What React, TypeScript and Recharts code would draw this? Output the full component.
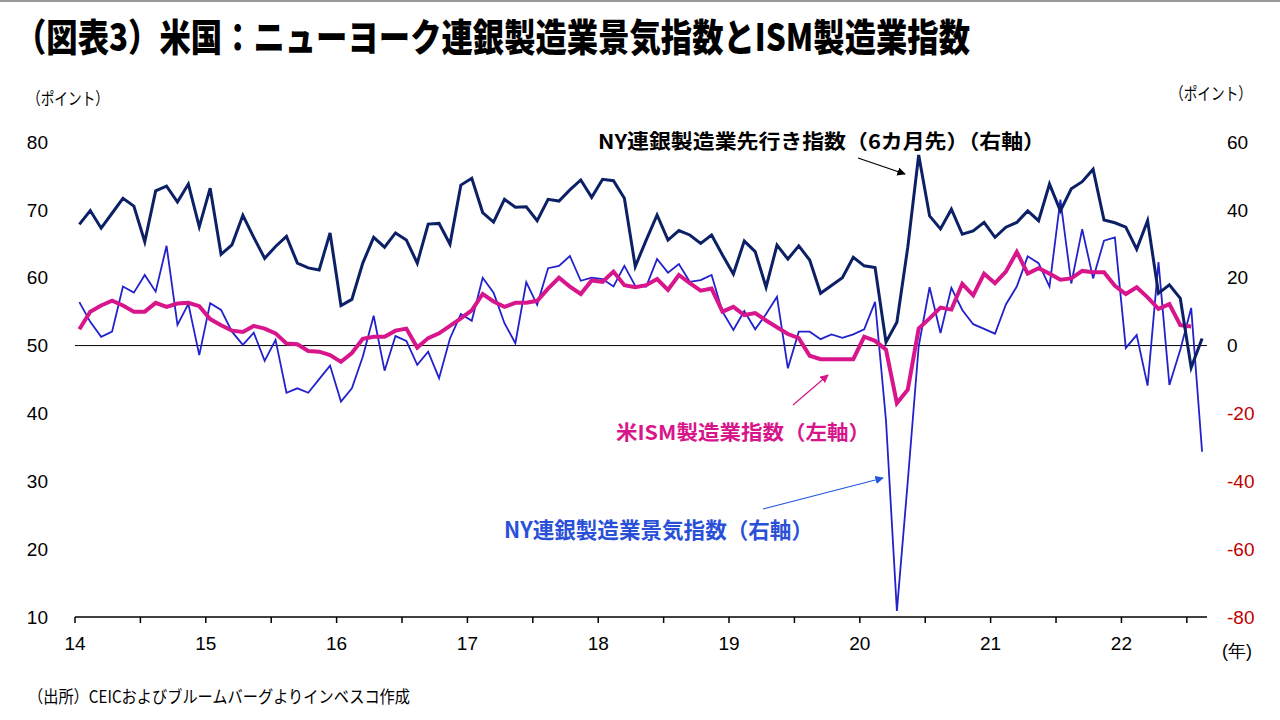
import { LineChart, Line, XAxis, YAxis, ReferenceLine } from "recharts";

// monthly, Jan 2014 .. Aug 2022
const nyFuture = [
  35.7, 39.8, 34.6, 39.0, 43.4, 41.1, 30.6, 45.6, 47.0, 42.3, 47.6, 35.0,
  46.4, 26.9, 29.7, 38.4, 31.9, 25.7, 29.2, 32.2, 24.3, 22.9, 22.3, 33.2,
  11.8, 13.6, 24.3, 31.9, 29.0, 33.2, 31.1, 24.3, 35.8, 36.0, 29.9, 47.3,
  49.3, 39.2, 36.4, 43.1, 40.8, 40.9, 36.8, 43.1, 42.6, 45.9, 48.8, 43.7,
  49.0, 48.6, 43.4, 23.3, 31.1, 38.5, 31.1, 33.9, 32.6, 30.1, 32.6, 26.7,
  21.1, 30.8, 27.7, 17.2, 29.6, 25.5, 29.4, 25.2, 15.4, 17.7, 20.0, 26.0,
  23.5, 23.0, 1.0, 6.9, 29.0, 56.2, 38.2, 34.4, 40.2, 32.8, 33.8, 36.3,
  31.9, 34.9, 36.3, 39.7, 36.8, 47.6, 39.7, 46.2, 48.3, 52.0, 37.0, 36.2,
  34.9, 28.4, 36.8, 15.4, 17.9, 13.9, -6.5, 2.1,
];

const nyCurrent = [
  12.8, 7.0, 2.6, 4.1, 17.4, 15.6, 20.8, 15.9, 29.4, 6.1, 12.3, -2.8,
  12.5, 10.5, 4.1, 0.2, 3.8, -4.5, 1.7, -13.9, -12.6, -13.9, -9.9, -5.9,
  -16.5, -12.6, -3.3, 8.8, -7.4, 2.8, 1.4, -5.7, -1.8, -9.6, 2.1, 9.3,
  7.3, 20.0, 15.6, 6.6, 0.7, 18.7, 12.0, 22.8, 23.5, 26.4, 19.1, 20.0,
  19.6, 17.4, 23.5, 17.6, 17.4, 25.5, 21.5, 24.0, 18.8, 19.3, 20.8, 10.0,
  4.6, 10.2, 4.8, 9.3, 14.4, -6.7, 4.1, 4.1, 1.9, 3.3, 2.3, 3.3,
  4.8, 12.9, -22.0, -78.2, -40.0, -0.2, 17.2, 3.7, 17.0, 10.5, 6.3, 4.9,
  3.5, 12.1, 17.4, 26.3, 24.3, 17.4, 43.0, 18.3, 34.3, 19.8, 30.9, 31.9,
  -0.7, 3.1, -11.8, 24.6, -11.6, -1.2, 11.1, -31.3,
];

const ism = [
  52.4, 55.0, 55.9, 56.6, 55.9, 55.0, 55.0, 56.3, 55.7, 56.2, 56.3, 55.8,
  53.9, 53.0, 52.2, 52.0, 52.9, 52.5, 51.8, 50.3, 50.2, 49.2, 49.1, 48.6,
  47.6, 48.9, 51.0, 51.3, 51.3, 52.2, 52.5, 49.7, 51.1, 51.8, 52.9, 54.0,
  55.2, 57.6, 56.5, 55.7, 56.3, 56.3, 56.6, 58.4, 60.0, 58.7, 57.6, 59.6,
  59.4, 60.9, 58.9, 58.6, 58.9, 59.8, 58.2, 60.4, 59.2, 58.1, 58.4, 55.0,
  55.7, 54.5, 54.8, 53.7, 52.7, 51.7, 51.1, 48.5, 48.0, 48.0, 48.0, 48.0,
  51.3, 50.7, 49.4, 41.5, 43.5, 52.5, 54.0, 55.6, 55.3, 59.1, 57.4, 60.6,
  59.2, 60.9, 63.8, 60.6, 61.4, 60.6, 59.7, 59.9, 61.0, 60.8, 60.8, 58.8,
  57.6, 58.6, 57.1, 55.4, 56.1, 53.0, 52.8,
];

const yearLabels = ["14", "15", "16", "17", "18", "19", "20", "21", "22"];
const leftTicks = [10, 20, 30, 40, 50, 60, 70, 80];
const rightTicks = [-80, -60, -40, -20, 0, 20, 40, 60];

const data = nyFuture.map((v, i) => ({
  t: i + 0.4,
  future: v,
  current: nyCurrent[i],
  ism: i < ism.length ? ism[i] : null,
}));

const xTicks = Array.from({ length: yearLabels.length * 2 }, (_, i) => i * 6);

const NAVY = "#0c2066";
const BLUE = "#2222cc";
const MAGENTA = "#d8168c";
const JP = "'Noto Sans CJK JP', 'Noto Sans', sans-serif";
const NUM = "'Liberation Sans', Arial, sans-serif";

const RightTick = (props: any) => {
  const { x, y, payload } = props;
  return (
    <text
      x={x}
      y={y}
      dy="0.35em"
      textAnchor="start"
      fontSize={19}
      fontFamily={NUM}
      fill={payload.value < 0 ? "#c00000" : "#000"}
    >
      {payload.value}
    </text>
  );
};

export default function App() {
  return (
    <div style={{ position: "absolute", left: 0, top: 0, width: 1280, height: 720, background: "#fff" }}>
      <LineChart
        width={1280}
        height={720}
        data={data}
        margin={{ top: 142, right: 0, bottom: 0, left: 0 }}
      >
        <XAxis
          dataKey="t"
          type="number"
          domain={[0, 103.85]}
          ticks={xTicks}
          interval={0}
          tickFormatter={(v: number) => (v % 12 === 0 ? yearLabels[v / 12] : "")}
          height={103}
          axisLine={{ stroke: "#000", strokeWidth: 1.5 }}
          tickLine={{ stroke: "#000", strokeWidth: 1.5 }}
          tickSize={6}
          tickMargin={14}
          tick={{ fontSize: 19, fill: "#000", fontFamily: NUM }}
        />
        <YAxis
          yAxisId="left"
          domain={[10, 80]}
          ticks={leftTicks}
          width={75}
          axisLine={false}
          tickLine={false}
          tickSize={0}
          tickMargin={27}
          tick={{ fontSize: 19, fill: "#000", fontFamily: NUM }}
        />
        <YAxis
          yAxisId="right"
          orientation="right"
          domain={[-80, 60]}
          ticks={rightTicks}
          width={73}
          axisLine={false}
          tickLine={false}
          tickSize={0}
          tickMargin={20}
          tick={<RightTick />}
        />
        <ReferenceLine yAxisId="right" y={0} stroke="#000" strokeWidth={1} />
        <Line
          yAxisId="right"
          type="linear"
          dataKey="current"
          stroke={BLUE}
          strokeWidth={1.8}
          dot={false}
          isAnimationActive={false}
        />
        <Line
          yAxisId="left"
          type="linear"
          dataKey="ism"
          stroke={MAGENTA}
          strokeWidth={4}
          dot={false}
          connectNulls={false}
          isAnimationActive={false}
        />
        <Line
          yAxisId="right"
          type="linear"
          dataKey="future"
          stroke={NAVY}
          strokeWidth={3}
          dot={false}
          isAnimationActive={false}
        />
      </LineChart>

      <svg
        width={1280}
        height={720}
        style={{ position: "absolute", left: 0, top: 0, pointerEvents: "none" }}
      >
        <defs>
          <marker id="ahBlack" viewBox="0 0 10 10" refX="9" refY="5" markerWidth="7" markerHeight="7" orient="auto">
            <path d="M0,0 L10,5 L0,10 z" fill="#000" />
          </marker>
          <marker id="ahMag" viewBox="0 0 10 10" refX="9" refY="5" markerWidth="7" markerHeight="7" orient="auto">
            <path d="M0,0 L10,5 L0,10 z" fill={MAGENTA} />
          </marker>
          <marker id="ahBlue" viewBox="0 0 10 10" refX="9" refY="5" markerWidth="7" markerHeight="7" orient="auto">
            <path d="M0,0 L10,5 L0,10 z" fill="#2255dd" />
          </marker>
        </defs>
        <line x1={0} y1={1} x2={1280} y2={1} stroke="#333" strokeWidth={1} />
        <text x={15} y={51} fontSize={38} fontWeight={900} fontFamily={JP} textLength={955} lengthAdjust="spacingAndGlyphs">
          （図表3）米国：ニューヨーク連銀製造業景気指数とISM製造業指数
        </text>
        <text x={27} y={105} fontSize={17} fontFamily={JP} textLength={82} lengthAdjust="spacingAndGlyphs">
          （ポイント）
        </text>
        <text x={1170} y={100} fontSize={17} fontFamily={JP} textLength={82} lengthAdjust="spacingAndGlyphs">
          （ポイント）
        </text>
        <text x={1222} y={657} fontSize={18} fontFamily={NUM}>
          (年)
        </text>
        <text x={28} y={703} fontSize={17} fontFamily={JP} textLength={382} lengthAdjust="spacingAndGlyphs">
          （出所）CEICおよびブルームバーグよりインベスコ作成
        </text>

        <text x={598} y={149} fontSize={20} fontWeight={700} fontFamily={JP} textLength={447} lengthAdjust="spacingAndGlyphs">
          NY連銀製造業先行き指数（6カ月先）（右軸）
        </text>
        <line x1={858} y1={158} x2={905} y2={174} stroke="#000" strokeWidth={1.2} markerEnd="url(#ahBlack)" />

        <text x={616} y={440} fontSize={20} fontWeight={700} fontFamily={JP} fill={MAGENTA} textLength={254} lengthAdjust="spacingAndGlyphs">
          米ISM製造業指数（左軸）
        </text>
        <line x1={793} y1={405} x2={828} y2={375} stroke={MAGENTA} strokeWidth={1.2} markerEnd="url(#ahMag)" />

        <text x={504} y={538} fontSize={22} fontWeight={700} fontFamily={JP} fill="#2a50d8" textLength={309} lengthAdjust="spacingAndGlyphs">
          NY連銀製造業景気指数（右軸）
        </text>
        <line x1={763} y1={509} x2={883} y2={478} stroke="#2255dd" strokeWidth={1.2} markerEnd="url(#ahBlue)" />
      </svg>
    </div>
  );
}
